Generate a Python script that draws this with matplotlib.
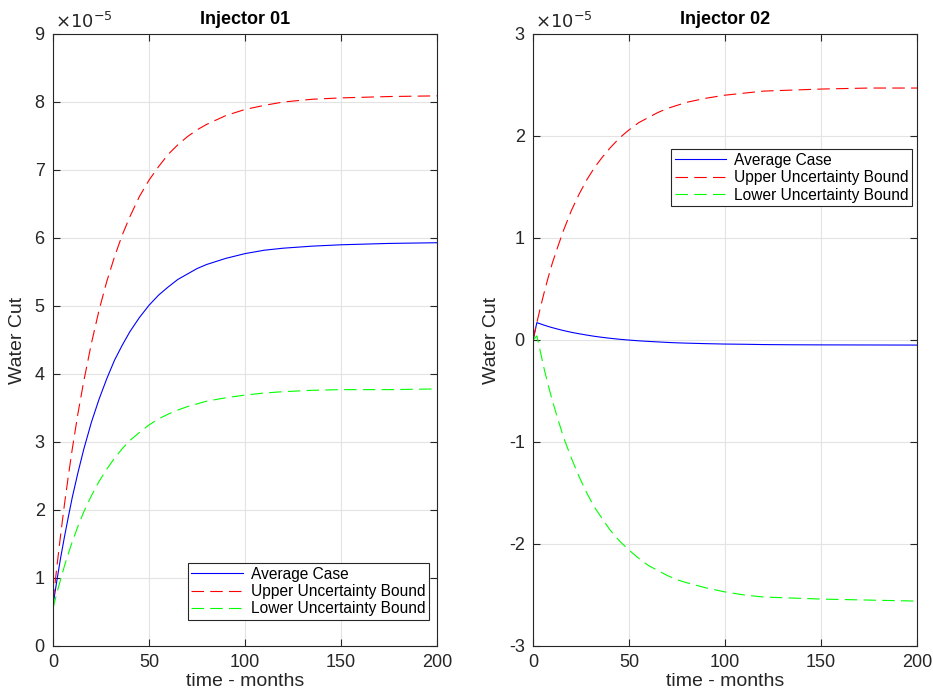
import numpy as np
import matplotlib
matplotlib.use('Agg')
from matplotlib import pyplot as plt
from matplotlib.ticker import FuncFormatter

plt.rcParams['font.family'] = ['Liberation Sans', 'DejaVu Sans']
plt.rcParams['axes.unicode_minus'] = False
plt.rcParams['lines.scale_dashes'] = False

# time axis (months)
t = [0, 2, 4, 6, 8, 10, 13, 16, 20, 24, 28, 32, 36, 40, 45, 50, 55, 60, 65, 70,
     75, 80, 90, 100, 110, 120, 135, 150, 175, 200]

# Injector 01 water cut, x1e-5
inj1_avg = [0.60, 0.96, 1.30, 1.61, 1.90, 2.18, 2.55, 2.89, 3.29, 3.63, 3.93, 4.20,
            4.42, 4.62, 4.83, 5.01, 5.16, 5.28, 5.39, 5.47, 5.55, 5.61, 5.70, 5.77,
            5.82, 5.85, 5.88, 5.90, 5.92, 5.93]
inj1_up = [0.65, 1.16, 1.64, 2.09, 2.50, 2.89, 3.42, 3.89, 4.45, 4.94, 5.36, 5.72,
           6.04, 6.31, 6.61, 6.85, 7.05, 7.23, 7.37, 7.49, 7.59, 7.67, 7.80, 7.89,
           7.95, 8.00, 8.04, 8.06, 8.08, 8.09]
inj1_lo = [0.55, 0.78, 0.98, 1.18, 1.36, 1.53, 1.76, 1.97, 2.21, 2.42, 2.60, 2.76,
           2.90, 3.02, 3.14, 3.25, 3.34, 3.41, 3.47, 3.52, 3.56, 3.60, 3.65, 3.69,
           3.72, 3.74, 3.76, 3.77, 3.77, 3.78]

# Injector 02 water cut, x1e-5
inj2_avg = [0.0, 0.17, 0.157, 0.144, 0.132, 0.121, 0.106, 0.092, 0.075, 0.061, 0.048,
            0.036, 0.026, 0.017, 0.007, -0.001, -0.008, -0.014, -0.019, -0.024, -0.028,
            -0.031, -0.036, -0.040, -0.042, -0.045, -0.047, -0.048, -0.049, -0.050]
inj2_up = [0.0, 0.17, 0.33, 0.48, 0.62, 0.75, 0.92, 1.08, 1.27, 1.43, 1.57, 1.69,
           1.79, 1.88, 1.98, 2.06, 2.13, 2.18, 2.23, 2.27, 2.30, 2.33, 2.37, 2.40,
           2.42, 2.44, 2.45, 2.46, 2.47, 2.47]
inj2_lo = [0.0, 0.04, -0.13, -0.30, -0.45, -0.59, -0.78, -0.96, -1.16, -1.34, -1.50,
           -1.64, -1.75, -1.86, -1.97, -2.06, -2.14, -2.21, -2.26, -2.31, -2.35, -2.38,
           -2.43, -2.47, -2.50, -2.52, -2.53, -2.54, -2.55, -2.56]

scale = 1e-5
fig = plt.figure(figsize=(9.33, 6.92), dpi=100)
ax1 = fig.add_axes([0.0568, 0.0665, 0.4116, 0.8844])
ax2 = fig.add_axes([0.5713, 0.0665, 0.4116, 0.8844])


def draw(ax, avg, up, lo, title, ylim, yticks, leg_loc, leg_anchor):
    ax.plot(t, np.array(avg) * scale, color=(0, 0, 1), lw=0.8, label='Average Case')
    ax.plot(t, np.array(up) * scale, color=(1, 0, 0), lw=0.8, dashes=(9, 4.5),
            label='Upper Uncertainty Bound')
    ax.plot(t, np.array(lo) * scale, color=(0, 1, 0), lw=0.8, dashes=(9, 4.5),
            label='Lower Uncertainty Bound')
    ax.set_xlim(0, 200)
    ax.set_ylim(ylim[0] * scale, ylim[1] * scale)
    ax.set_xticks([0, 50, 100, 150, 200])
    ax.set_yticks(np.array(yticks) * scale)
    ax.yaxis.set_major_formatter(FuncFormatter(lambda v, p: '%d' % round(v / scale)))
    ax.text(0.005, 1.004, r'$\times10^{-5}$', transform=ax.transAxes, fontsize=13,
            color='#262626', ha='left', va='bottom')
    ax.grid(True, color='#e3e3e3', lw=0.8)
    ax.set_axisbelow(True)
    ax.tick_params(direction='in', top=True, right=True, length=5, width=0.8,
                   labelsize=13, colors='#262626', pad=6)
    for s in ax.spines.values():
        s.set_color('#262626')
        s.set_linewidth(0.8)
    ax.set_title(title, fontsize=13, fontweight='bold', pad=7)
    ax.set_xlabel('time - months', fontsize=14, color='#262626', labelpad=1)
    ax.set_ylabel('Water Cut', fontsize=14, color='#262626', labelpad=6)
    leg = ax.legend(loc=leg_loc, bbox_to_anchor=leg_anchor, fontsize=11.2,
                    fancybox=False, framealpha=1, edgecolor='#262626',
                    borderpad=0.25, labelspacing=0.15, handlelength=3.3,
                    handletextpad=0.5, borderaxespad=0)
    leg.get_frame().set_linewidth(0.8)


draw(ax1, inj1_avg, inj1_up, inj1_lo, 'Injector 01', (0, 9), range(0, 10),
     'lower right', (0.979, 0.042))
draw(ax2, inj2_avg, inj2_up, inj2_lo, 'Injector 02', (-3, 3), range(-3, 4),
     'upper right', (0.987, 0.812))

fig.savefig('out.png', dpi=100)
